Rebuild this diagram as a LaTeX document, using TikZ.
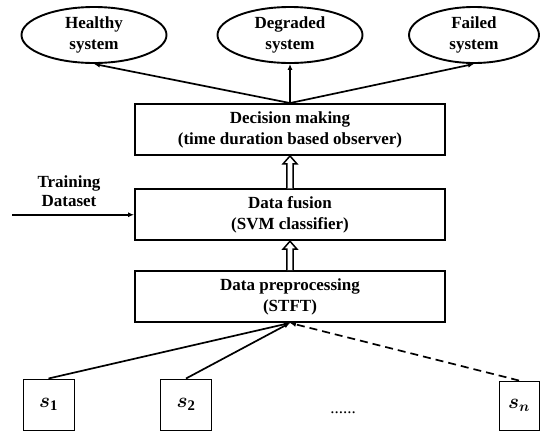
\documentclass[tikz,border=0pt]{standalone}
\usepackage{fontspec}
\setmainfont{Liberation Serif}
\usepackage{bm}
\usetikzlibrary{arrows.meta,shapes.geometric,calc}
\begin{document}
\begin{tikzpicture}[x=1pt,y=-1pt,
  txt/.style={font=\fontsize{17}{21}\selectfont\bfseries, align=center},
  blk/.style={txt, draw, line width=1.9pt, minimum width=310pt, minimum height=51pt, inner sep=0pt},
  oval/.style={txt, ellipse, draw, line width=1.9pt, minimum width=145pt, minimum height=56pt, inner sep=0pt},
  sbox/.style={draw, line width=1pt, minimum width=51pt, minimum height=51pt, inner sep=0pt, font=\fontsize{21}{22}\selectfont},
  arr/.style={line width=1.7pt, -{Latex[length=6pt,width=5pt]}},
  hollow/.style={line width=1.5pt, fill=white, line join=miter},
]
\useasboundingbox (0,0) rectangle (540,432);

% outcome ellipses
\node[oval] (h) at (94,35) {Healthy\\system};
\node[oval] (g) at (290,35) {Degraded\\system};
\node[oval, minimum width=130pt] (fl) at (474,35) {Failed\\system};

% blocks
\node[blk] (d) at (290,129.5) {Decision making\\(time duration based observer)};
\node[blk] (f) at (290,214.75) {Data fusion\\(SVM classifier)};
\node[blk] (p) at (290,296.5) {Data preprocessing\\(STFT)};

% training dataset
\node[txt, font=\fontsize{17}{19.5}\selectfont\bfseries] (t) at (69,191) {Training\\Dataset};
\coordinate (ts) at (12,214.75);
\draw[arr] (ts) -- (f.west);

% sensors
\node[sbox] (s1) at (48.5,404.5) {$\bm{s}_{\mathbf{1}}$};
\node[sbox] (s2) at (186,404.5) {$\bm{s}_{\mathbf{2}}$};
\node[sbox, minimum width=40pt, minimum height=49pt] (sn) at (519,405.5) {$\bm{s}_{\bm{n}}$};
\node[font=\fontsize{17}{20}\selectfont] (dots) at (343,413) {......};

% connectors
\draw[arr] (d.north) -- (h.south);
\draw[arr] (d.north) -- (g.south);
\draw[arr] (d.north) -- (fl.south);

\draw[arr] (s1.north) -- (p.south);
\draw[arr] (s2.north) -- (p.south);
\draw[arr, dash pattern=on 8pt off 5pt] (sn.north) -- (p.south);

% hollow double arrows
\draw[hollow] ($(f.north)+(-3.2,0)$) -- ($(d.south)+(-3.2,8)$) -- ($(d.south)+(-7,8)$) -- (d.south) -- ($(d.south)+(7,8)$) -- ($(d.south)+(3.2,8)$) -- ($(f.north)+(3.2,0)$);
\draw[hollow] ($(p.north)+(-3.2,0)$) -- ($(f.south)+(-3.2,8)$) -- ($(f.south)+(-7,8)$) -- (f.south) -- ($(f.south)+(7,8)$) -- ($(f.south)+(3.2,8)$) -- ($(p.north)+(3.2,0)$);
\end{tikzpicture}
\end{document}
